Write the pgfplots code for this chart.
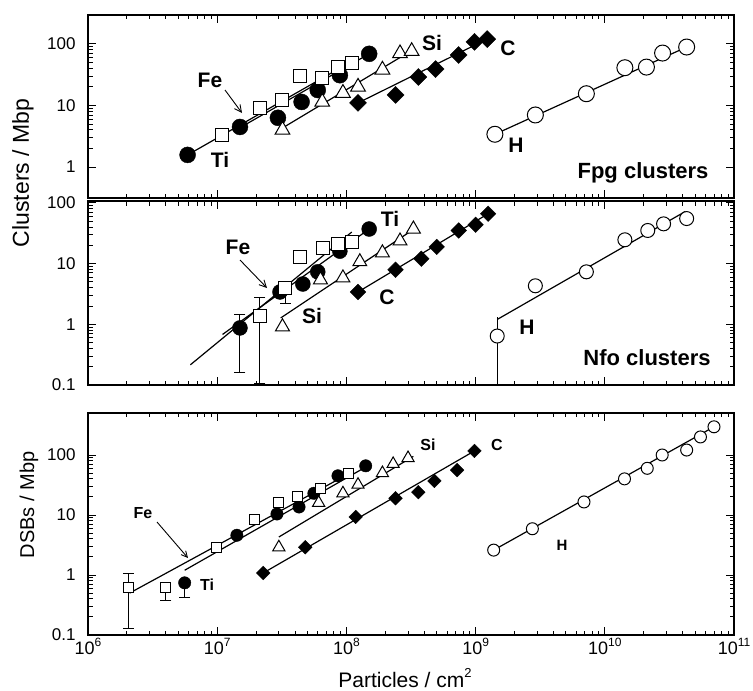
\documentclass[border=0pt]{standalone}
\usepackage{fontspec}
\setmainfont{Liberation Sans}
\usepackage{pgfplots}
\pgfplotsset{compat=1.18}
\usetikzlibrary{arrows.meta}

\newcommand{\fs}[1]{\fontsize{#1}{#1}\selectfont}
\newcommand{\pw}[1]{10\raisebox{0.42em}{\fs{12}#1}}

\pgfplotsset{
  fitline/.style={black, line width=1.2pt, mark=none},
  errb/.style={black, line width=1pt, mark=-, mark size=5.5pt, mark options={line width=1pt}},
  mkTi/.style={only marks, mark=*, mark size=#1, mark options={fill=black, draw=black}},
  mkFe/.style={only marks, mark=square*, mark size=#1, mark options={fill=white, draw=black, line width=1pt}},
  mkSi/.style={only marks, mark=triangle*, mark size=#1, mark options={fill=white, draw=black, line width=1pt}},
  mkC/.style={only marks, mark=square*, mark size=#1, mark options={rotate=45, fill=black, draw=black}},
  mkH/.style={only marks, mark=*, mark size=#1, mark options={fill=white, draw=black, line width=1pt}},
}

\begin{document}
\begin{tikzpicture}
\useasboundingbox (0,0) rectangle (753pt,-691pt);

% ---------------- Top panel: Fpg clusters ----------------
\begin{axis}[scale only axis, width=646pt, height=183pt, at={(88pt,-15pt)}, anchor=north west,
  xmode=log, ymode=log, xmin=1e6, xmax=1e11,
  axis line style={line width=1.6pt}, tick style={black, line width=0.9pt},
  major tick length=8pt, minor tick length=4.5pt, tick align=inside,
  xtick={1e6,1e7,1e8,1e9,1e10,1e11}, xticklabels={},
  yticklabel style={font=\fs{17}, xshift=-9pt},
  ymin=0.313, ymax=295, ytick={1,10,100}, yticklabels={1,10,100}]
\addplot[fitline] coordinates {(5.9e6,1.57) (1.1e8,52)};
\addplot[fitline] coordinates {(1.4e7,4.0) (1.5e8,69)};
\addplot[fitline] coordinates {(3.2e7,4.3) (3.2e8,78)};
\addplot[fitline] coordinates {(1.23e8,11) (1.23e9,120)};
\addplot[fitline] coordinates {(1.41e9,3.4) (4.3e10,89)};
\addplot[mkTi=8pt] coordinates {(5.9e6,1.57) (1.5e7,4.47) (2.95e7,6.3) (4.5e7,11.4) (6.0e7,17.8) (8.9e7,31) (1.5e8,69)};
\addplot[mkFe=6.5pt] coordinates {(1.09e7,3.3) (2.14e7,9.1) (3.2e7,12.3) (4.4e7,30) (6.5e7,28) (8.6e7,42) (1.1e8,49)};
\addplot[mkSi=8.5pt] coordinates {(3.2e7,4.0) (6.5e7,11.4) (9.4e7,15.9) (1.23e8,20) (1.9e8,38) (2.6e8,70) (3.2e8,76)};
\addplot[mkC=6pt] coordinates {(1.23e8,11) (2.4e8,14.8) (3.6e8,29) (4.9e8,39) (7.4e8,66) (9.8e8,108) (1.23e9,120)};
\addplot[mkH=8pt] coordinates {(1.41e9,3.4) (2.9e9,7.0) (7.2e9,15.5) (1.43e10,41) (2.1e10,42) (2.8e10,71) (4.3e10,89)};
\end{axis}

% ---------------- Middle panel: Nfo clusters ----------------
\begin{axis}[scale only axis, width=646pt, height=184pt, at={(88pt,-201pt)}, anchor=north west,
  xmode=log, ymode=log, xmin=1e6, xmax=1e11,
  axis line style={line width=1.6pt}, tick style={black, line width=0.9pt},
  major tick length=8pt, minor tick length=4.5pt, tick align=inside,
  xtick={1e6,1e7,1e8,1e9,1e10,1e11}, xticklabels={},
  yticklabel style={font=\fs{17}, xshift=-9pt},
  ymin=0.1, ymax=107, ytick={0.1,1,10,100}, yticklabels={0.1,1,10,100}]
\addplot[fitline] coordinates {(6.2e6,0.215) (1.1e8,33)};
\addplot[fitline] coordinates {(1.1e7,0.68) (1.5e8,37)};
\addplot[fitline] coordinates {(3.1e7,1.27) (3.4e8,38)};
\addplot[fitline] coordinates {(1.23e8,3.4) (1.25e9,66)};
\addplot[fitline] coordinates {(1.47e9,1.2) (4.2e10,72)};
\addplot[errb] coordinates {(1.5e7,0.16) (1.5e7,1.45)};
\addplot[errb] coordinates {(2.14e7,0.105) (2.14e7,2.8)};
\addplot[errb, mark indices={1}] coordinates {(3.35e7,2.2) (3.35e7,4.0)};
\addplot[errb, mark indices={2}] coordinates {(1.47e9,0.05) (1.47e9,1.3)};
\addplot[mkTi=7.5pt] coordinates {(1.5e7,0.87) (3.06e7,3.4) (4.6e7,4.6) (6.0e7,7.3) (8.9e7,16) (1.5e8,37)};
\addplot[mkFe=6.5pt] coordinates {(2.14e7,1.37) (3.35e7,4.0) (4.4e7,12.9) (6.6e7,18.3) (8.6e7,21) (1.1e8,22.8)};
\addplot[mkSi=8pt] coordinates {(3.2e7,0.91) (6.3e7,5.4) (9.4e7,5.8) (1.27e8,10.7) (1.9e8,15) (2.6e8,23.5) (3.3e8,37)};
\addplot[mkC=5.5pt] coordinates {(1.23e8,3.4) (2.4e8,7.9) (3.8e8,12) (5.0e8,18.8) (7.4e8,35) (1.0e9,43.5) (1.25e9,66)};
\addplot[mkH=7pt] coordinates {(1.47e9,0.64) (2.9e9,4.3) (7.2e9,7.3) (1.43e10,24.6) (2.15e10,35) (2.85e10,45) (4.3e10,55)};
\end{axis}

% ---------------- Bottom panel: DSBs ----------------
\begin{axis}[scale only axis, width=646pt, height=222pt, at={(88pt,-413pt)}, anchor=north west,
  xmode=log, ymode=log, xmin=1e6, xmax=1e11,
  axis line style={line width=1.6pt}, tick style={black, line width=0.9pt},
  major tick length=8pt, minor tick length=4.5pt, tick align=inside,
  xtick={1e6,1e7,1e8,1e9,1e10,1e11},
  xticklabels={\pw{6},\pw{7},\pw{8},\pw{9},\pw{10},\pw{11}},
  xticklabel style={font=\fs{18}},
  yticklabel style={font=\fs{17}, xshift=-9pt},
  ymin=0.1, ymax=501, ytick={0.1,1,10,100}, yticklabels={0.1,1,10,100}]
\addplot[fitline] coordinates {(2.1e6,0.5) (1.1e8,52)};
\addplot[fitline] coordinates {(5.6e6,1.2) (1.41e8,63)};
\addplot[fitline] coordinates {(3.0e7,4.3) (3.3e8,95)};
\addplot[fitline] coordinates {(2.27e7,1.08) (9.8e8,117)};
\addplot[fitline] coordinates {(1.38e9,2.6) (7.0e10,295)};
\addplot[errb] coordinates {(2.04e6,0.126) (2.04e6,1.05)};
\addplot[errb, mark indices={1}] coordinates {(4.0e6,0.37) (4.0e6,0.63)};
\addplot[errb, mark indices={1}] coordinates {(5.6e6,0.42) (5.6e6,0.74)};
\addplot[mkTi=6.2pt] coordinates {(5.6e6,0.74) (1.42e7,4.6) (2.9e7,10.4) (4.3e7,13.6) (5.6e7,23) (8.6e7,45) (1.41e8,66)};
\addplot[mkFe=5pt] coordinates {(2.04e6,0.63) (4.0e6,0.63) (9.95e6,2.9) (1.95e7,8.3) (3.0e7,16) (4.15e7,20) (6.3e7,28) (1.03e8,50)};
\addplot[mkSi=7pt] coordinates {(3.0e7,2.9) (6.1e7,16) (9.4e7,23) (1.23e8,32) (1.9e8,50) (2.3e8,71) (3.0e8,89)};
\addplot[mkC=4.8pt] coordinates {(2.27e7,1.08) (4.8e7,2.9) (1.18e8,9.3) (2.4e8,19) (3.6e8,24) (4.8e8,37) (7.2e8,56) (9.8e8,117)};
\addplot[mkH=6pt] coordinates {(1.38e9,2.6) (2.75e9,5.9) (6.9e9,16.5) (1.42e10,40) (2.13e10,60) (2.78e10,100) (4.3e10,121) (5.5e10,200) (7.0e10,295)};
\end{axis}

% ---------------- Labels ----------------
\node[rotate=90, font=\fs{23}] at (23pt,-173pt) {Clusters / Mbp};
\node[rotate=90, font=\fs{20}] at (29pt,-505pt) {DSBs / Mbp};
\node[font=\fs{21}] at (405pt,-678pt) {Particles / cm\raisebox{0.45em}{\fs{13}2}};

\node[font=\fs{21}\bfseries] at (210pt,-80pt) {Fe};
\draw[line width=0.9pt, -{Straight Barb[length=7pt,width=7pt]}] (225pt,-90pt) -- (242pt,-113pt);
\node[font=\fs{21}\bfseries] at (220pt,-160pt) {Ti};
\node[font=\fs{21}\bfseries] at (432pt,-43pt) {Si};
\node[font=\fs{21}\bfseries] at (508pt,-48pt) {C};
\node[font=\fs{21}\bfseries] at (516pt,-145pt) {H};
\node[font=\fs{22}\bfseries] at (643pt,-173pt) {Fpg clusters};

\node[font=\fs{21}\bfseries] at (238pt,-247pt) {Fe};
\draw[line width=0.9pt, -{Straight Barb[length=7pt,width=7pt]}] (240pt,-260pt) -- (267pt,-288pt);
\node[font=\fs{21}\bfseries] at (390pt,-219pt) {Ti};
\node[font=\fs{21}\bfseries] at (312pt,-316pt) {Si};
\node[font=\fs{21}\bfseries] at (387pt,-297pt) {C};
\node[font=\fs{21}\bfseries] at (527pt,-327pt) {H};
\node[font=\fs{22}\bfseries] at (647pt,-358pt) {Nfo clusters};

\node[font=\fs{16}\bfseries] at (143pt,-513pt) {Fe};
\draw[line width=0.9pt, -{Straight Barb[length=6pt,width=6pt]}] (157pt,-522pt) -- (188pt,-558pt);
\node[font=\fs{16}\bfseries] at (207pt,-585pt) {Ti};
\node[font=\fs{16}\bfseries] at (428pt,-445pt) {Si};
\node[font=\fs{16}\bfseries] at (497pt,-445pt) {C};
\node[font=\fs{15}\bfseries] at (562pt,-545pt) {H};
\end{tikzpicture}
\end{document}
